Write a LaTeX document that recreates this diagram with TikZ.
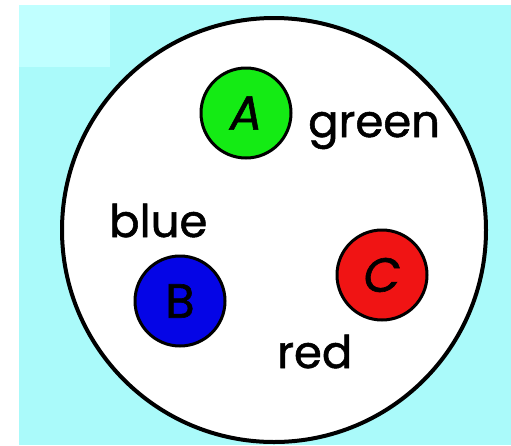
\documentclass[tikz,border=0pt]{standalone}
\usepackage{fontspec}
\setmainfont{Poppins}
\newfontfamily\heavyfont[FakeBold=1.2]{Poppins}
\definecolor{bgcyan}{RGB}{170,250,250}
\definecolor{bglight}{RGB}{192,255,255}
\definecolor{ballgreen}{RGB}{20,235,20}
\definecolor{ballblue}{RGB}{5,5,230}
\definecolor{ballred}{RGB}{240,20,20}
\tikzset{
  ball/.style={circle, draw=black, line width=3pt, minimum size=90pt, inner sep=0pt,
               font=\heavyfont\fontsize{48}{52}\selectfont},
  word/.style={inner sep=0pt, anchor=base west, font=\heavyfont\fontsize{45}{50}\selectfont}
}
\begin{document}
\begin{tikzpicture}[x=1pt,y=-1pt]
\useasboundingbox (0,0) rectangle (511,445);
\fill[white] (0,0) rectangle (511,445);
\fill[bgcyan] (19,5) rectangle (511,445);
\fill[bglight] (19,5) rectangle (110,67);
\node[circle, draw=black, fill=white, line width=4pt, minimum size=424pt, inner sep=0pt] (outer) at (274,230) {};
\node[ball, fill=ballgreen] (A) at (246,113) {\itshape A};
\node[ball, fill=ballblue] (B) at (180,301) {B};
\node[ball, fill=ballred] (C) at (382,275) {\itshape C};
\node[word] (green) at (308,137) {green};
\node[word] (blue) at (109,237) {blue};
\node[word] (red) at (277,368) {red};
\end{tikzpicture}
\end{document}
